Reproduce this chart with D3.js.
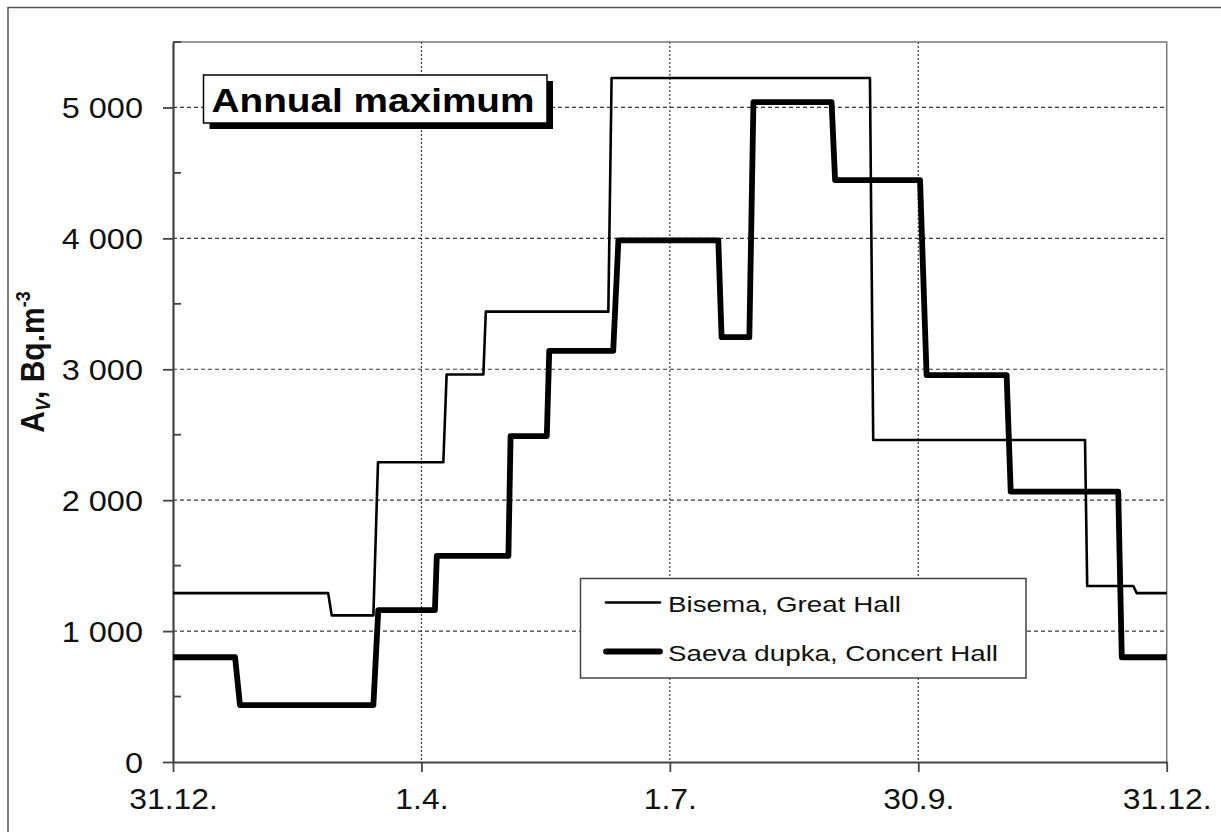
<!DOCTYPE html>
<html>
<head>
<meta charset="utf-8">
<script src="https://cdn.jsdelivr.net/npm/d3@7"></script>
<style>
  body { margin: 0; background: #fff; }
  svg { display: block; font-family: "Liberation Sans", Arial, sans-serif; }
</style>
</head>
<body>
<svg id="chart" width="1221" height="832"></svg>
<script>
// Day-of-year positions of the x ticks and their date labels
const tickDays = [0, 91.25, 182.5, 273.75, 365];
const tickLabels = ["31.12.", "1.4.", "1.7.", "30.9.", "31.12."];
const yTicks = [0, 1000, 2000, 3000, 4000, 5000];
const yMinorTicks = [500, 1500, 2500, 3500, 4500, 5500];

// Running annual maximum of radon activity, Bq.m-3 (day of year -> value)
const bisemaDays   = [0, 57.0, 58.3, 73.6, 75.3, 99.3, 100.5, 114.0, 114.9, 159.9, 161.1, 256.0, 257.2, 335.0, 335.8, 352.7, 354.0, 365];
const bisemaValues = [1290, 1290, 1120, 1120, 2290, 2290, 2960, 2960, 3440, 3440, 5225, 5225, 2460, 2460, 1345, 1345, 1290, 1290];

const saevaDays   = [0, 22.8, 24.6, 73.6, 75.4, 96.2, 96.9, 123.2, 124.0, 137.3, 138.2, 161.7, 163.6, 200.3, 201.5, 211.7, 213.2, 241.9, 243.2, 274.4, 276.8, 306.2, 307.7, 347.2, 348.5, 365];
const saevaValues = [800, 800, 435, 435, 1160, 1160, 1575, 1575, 2490, 2490, 3140, 3140, 3985, 3985, 3245, 3245, 5040, 5040, 4445, 4445, 2955, 2955, 2065, 2065, 800, 800];

const seriesNames = ["Bisema, Great Hall", "Saeva dupka, Concert Hall"];
const titleText = "Annual maximum";

const svg = d3.select("#chart");
const plotLeft = 173, plotRight = 1166.7, plotTop = 42, plotBottom = 762;

const x = d3.scaleLinear().domain([0, 365]).range([plotLeft, plotRight]);
const y = d3.scaleLinear().domain([0, 5500]).range([plotBottom, plotTop]);

const gridColor = "#3a3a3a";
const axisColor = "#444";

// stretch a text to a wider set width
function stretch(sel, f) {
  sel.each(function () {
    const w = this.getComputedTextLength();
    d3.select(this).attr("textLength", w * f).attr("lengthAdjust", "spacingAndGlyphs");
  });
}

// outer frame
svg.append("path")
  .attr("d", "M8,832 V7.5 H1221")
  .attr("fill", "none").attr("stroke", "#555").attr("stroke-width", 1.5);

// horizontal grid
svg.append("g").selectAll("line").data(yTicks.filter(d => d > 0)).join("line")
  .attr("x1", plotLeft).attr("x2", plotRight)
  .attr("y1", d => y(d)).attr("y2", d => y(d))
  .attr("stroke", gridColor).attr("stroke-width", 1.2)
  .attr("stroke-dasharray", "4,3");

// vertical grid
svg.append("g").selectAll("line").data(tickDays.slice(1, -1)).join("line")
  .attr("x1", d => x(d)).attr("x2", d => x(d))
  .attr("y1", plotTop).attr("y2", plotBottom)
  .attr("stroke", gridColor).attr("stroke-width", 1.2)
  .attr("stroke-dasharray", "2,2");

// plot frame: top and right edges
svg.append("path")
  .attr("d", `M${plotLeft},${plotTop} H${plotRight} V${plotBottom}`)
  .attr("fill", "none").attr("stroke", "#777").attr("stroke-width", 1.5);

// y axis
const yAxis = svg.append("g").attr("transform", `translate(${plotLeft},0)`)
  .call(d3.axisLeft(y).tickValues(yTicks).tickSize(10).tickSizeOuter(0).tickPadding(30)
    .tickFormat(d => d === 0 ? "0" : d3.format(",")(d).replace(",", " ")));
yAxis.select(".domain").attr("stroke", axisColor).attr("stroke-width", 2.2);
yAxis.selectAll(".tick line").attr("stroke", axisColor).attr("stroke-width", 1.8);
yAxis.selectAll(".tick text")
  .attr("font-size", 29).attr("fill", "#111").attr("font-family", "Liberation Sans, Arial, sans-serif")
  .attr("x", 143 - plotLeft).attr("dy", "0.36em");
stretch(yAxis.selectAll(".tick text"), 1.12);

// minor y ticks pointing inward
svg.append("g").selectAll("line").data(yMinorTicks).join("line")
  .attr("x1", plotLeft).attr("x2", plotLeft + 8)
  .attr("y1", d => y(d)).attr("y2", d => y(d))
  .attr("stroke", axisColor).attr("stroke-width", 1.8);

// x axis
const xAxis = svg.append("g").attr("transform", `translate(0,${plotBottom})`)
  .call(d3.axisBottom(x).tickValues(tickDays).tickSize(10).tickSizeOuter(0).tickPadding(16)
    .tickFormat((d, i) => tickLabels[i]));
xAxis.select(".domain").attr("stroke", axisColor).attr("stroke-width", 2.2);
xAxis.selectAll(".tick line").attr("stroke", axisColor).attr("stroke-width", 1.8);
xAxis.selectAll(".tick text")
  .attr("font-size", 29).attr("fill", "#111").attr("font-family", "Liberation Sans, Arial, sans-serif")
  .attr("y", 47).attr("dy", 0);
stretch(xAxis.selectAll(".tick text"), 1.1);

// series
const line = d3.line().x(d => x(d[0])).y(d => y(d[1]));
const bisema = bisemaDays.map((d, i) => [d, bisemaValues[i]]);
const saeva = saevaDays.map((d, i) => [d, saevaValues[i]]);

svg.append("path").datum(bisema).attr("d", line)
  .attr("fill", "none").attr("stroke", "#000").attr("stroke-width", 2.6)
  .attr("stroke-linejoin", "round");
svg.append("path").datum(saeva).attr("d", line)
  .attr("fill", "none").attr("stroke", "#000").attr("stroke-width", 5.8)
  .attr("stroke-linejoin", "round");

// title box with drop shadow
const tb = { x: 203.5, y: 75, w: 343.5, h: 48 };
svg.append("rect").attr("x", tb.x + 6).attr("y", tb.y + 6).attr("width", tb.w).attr("height", tb.h).attr("fill", "#000");
svg.append("rect").attr("x", tb.x).attr("y", tb.y).attr("width", tb.w).attr("height", tb.h)
  .attr("fill", "#fff").attr("stroke", "#000").attr("stroke-width", 1.5);
svg.append("text").attr("x", 211.5).attr("y", 111.5)
  .attr("font-size", 32.5).attr("font-weight", "bold").attr("fill", "#000")
  .attr("textLength", 323).attr("lengthAdjust", "spacingAndGlyphs")
  .text(titleText);

// legend
const lg = { x: 580.5, y: 578.5, w: 445.5, h: 99.5 };
svg.append("rect").attr("x", lg.x).attr("y", lg.y).attr("width", lg.w).attr("height", lg.h)
  .attr("fill", "#fff").attr("stroke", "#444").attr("stroke-width", 1.5);
const legendRows = [
  { name: seriesNames[0], width: 2.6, yLine: 602.5, yText: 612, len: 233 },
  { name: seriesNames[1], width: 5.8, yLine: 651.5, yText: 661, len: 330 }
];
legendRows.forEach(r => {
  svg.append("line").attr("x1", 606).attr("x2", 660).attr("y1", r.yLine).attr("y2", r.yLine)
    .attr("stroke", "#000").attr("stroke-width", r.width).attr("stroke-linecap", "round");
  svg.append("text").attr("x", 668).attr("y", r.yText)
    .attr("font-size", 22).attr("fill", "#111")
    .attr("textLength", r.len).attr("lengthAdjust", "spacingAndGlyphs")
    .text(r.name);
});

// y axis title: A_V, Bq.m^-3
const yt = svg.append("text")
  .attr("transform", "translate(44,362) scale(1.1,1) rotate(-90)")
  .attr("text-anchor", "middle")
  .attr("font-size", 30).attr("font-weight", "bold").attr("fill", "#111");
yt.append("tspan").text("A");
yt.append("tspan").attr("font-size", 18).attr("font-style", "italic").attr("dy", 5).text("V");
yt.append("tspan").attr("dy", -5).text(", Bq.m");
yt.append("tspan").attr("font-size", 18).attr("dy", -13).text("-3");
</script>
</body>
</html>
